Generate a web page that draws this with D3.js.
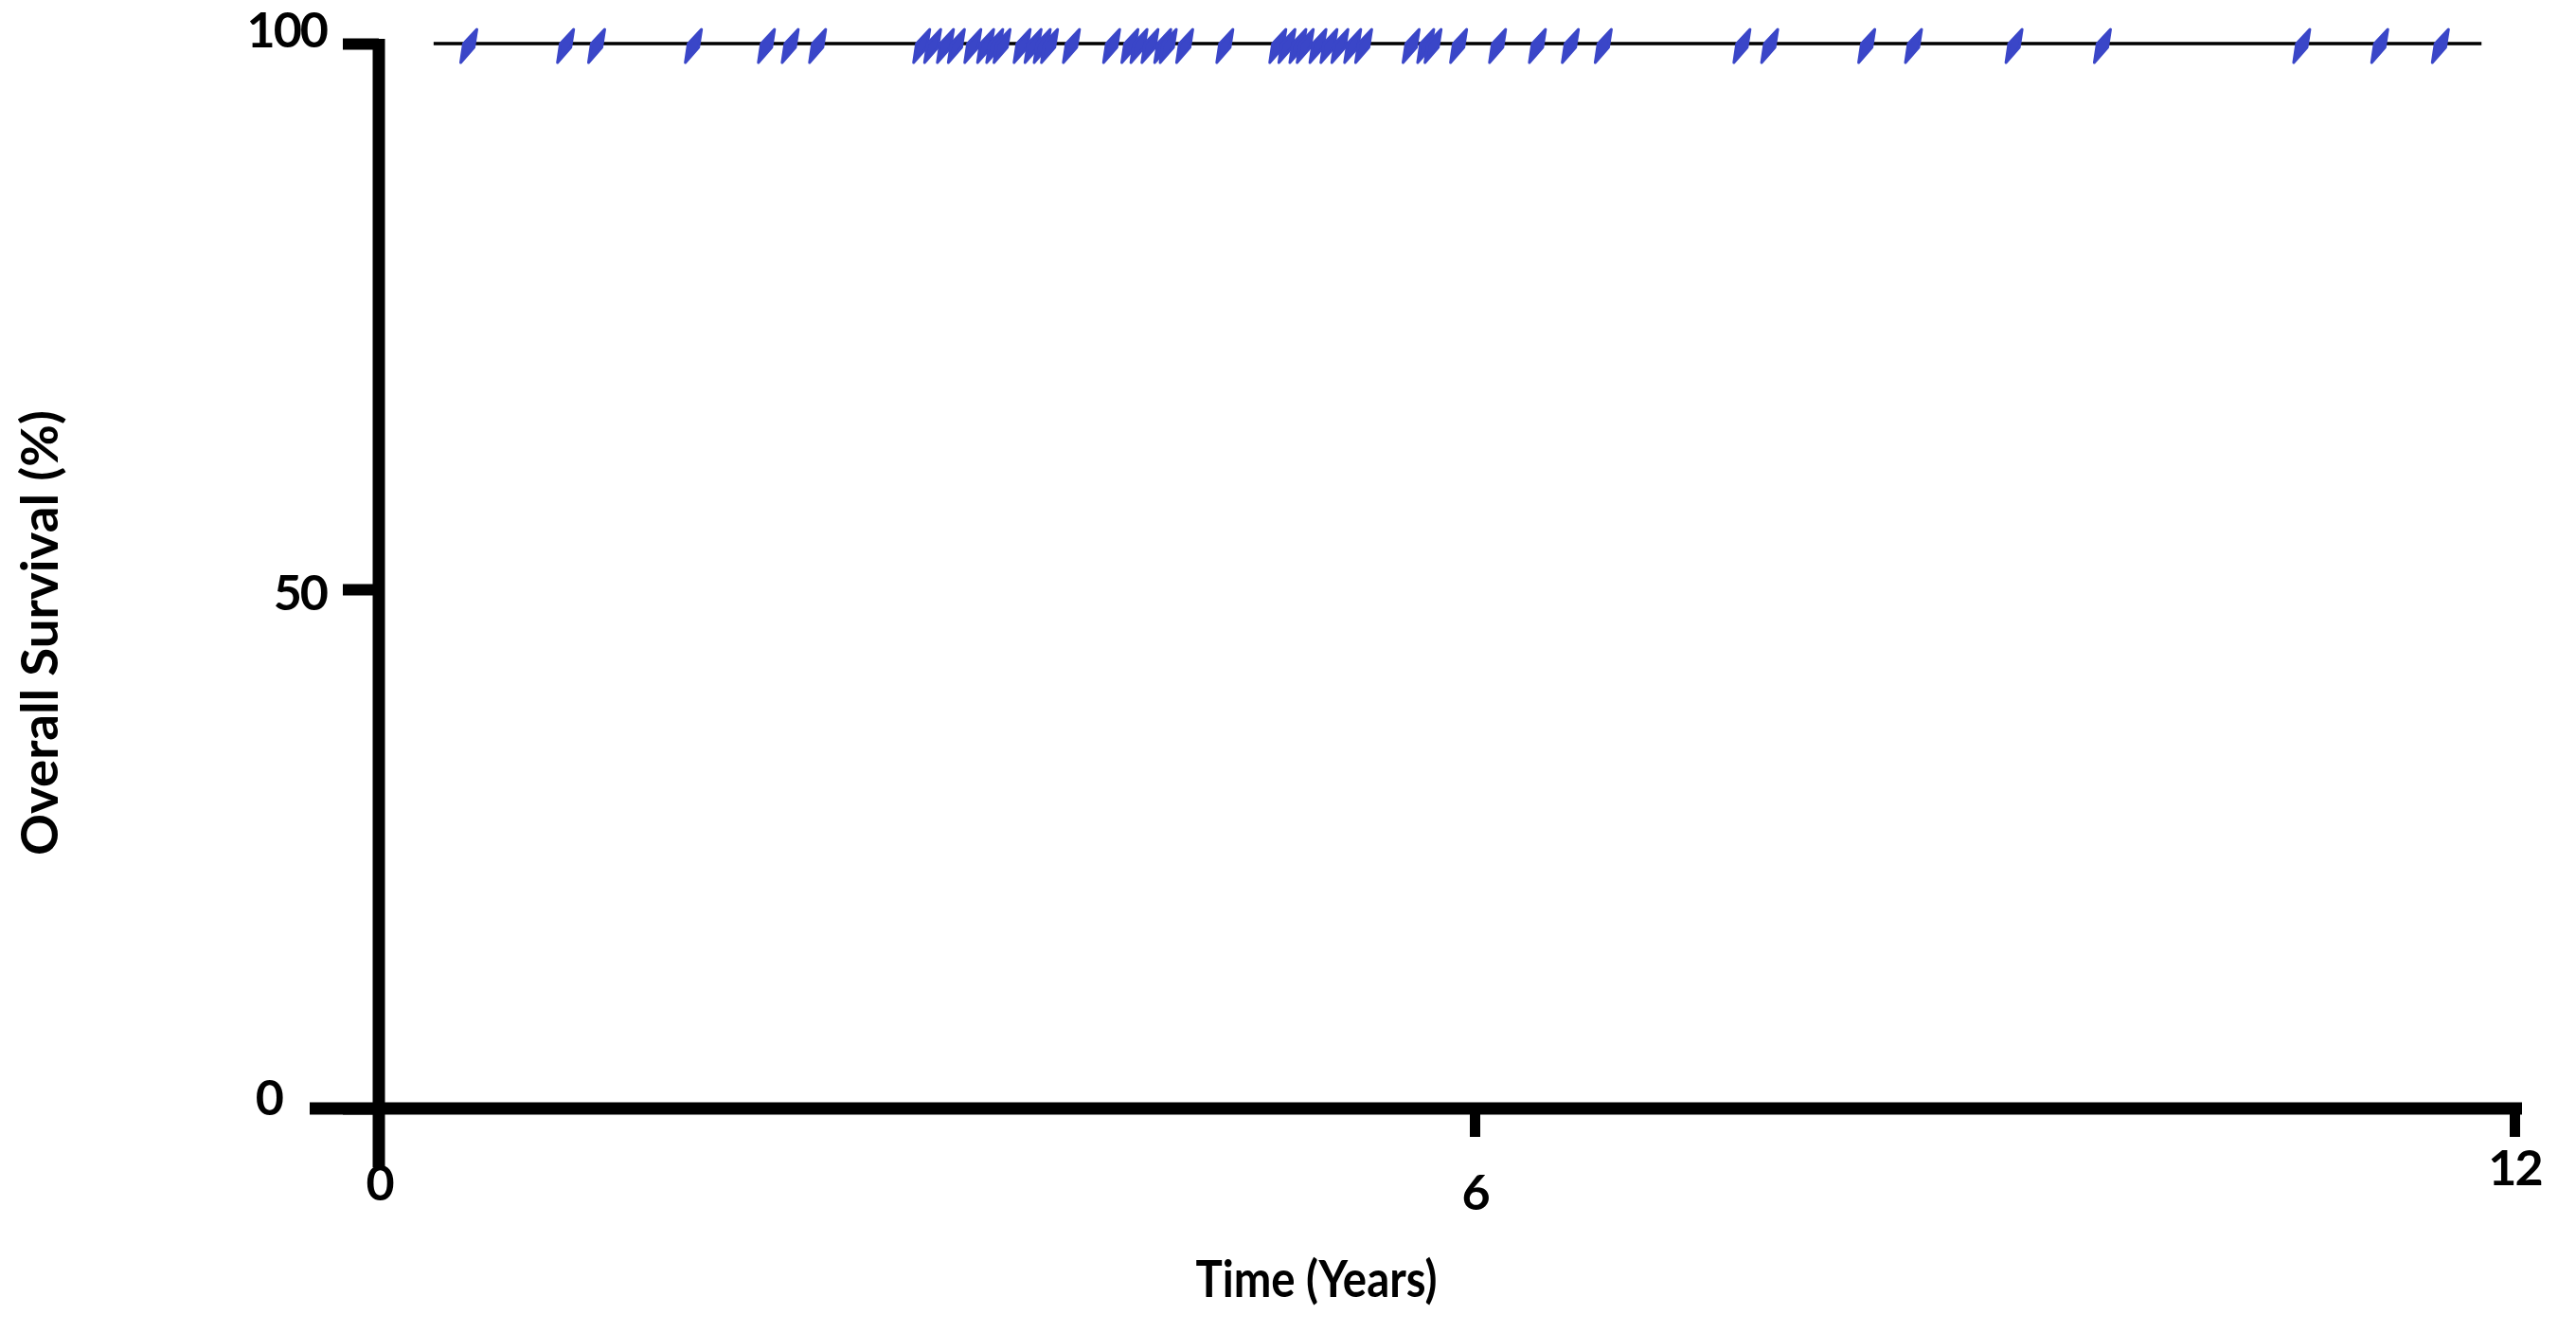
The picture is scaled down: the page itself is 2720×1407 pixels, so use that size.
<!DOCTYPE html>
<html>
<head>
<meta charset="utf-8">
<script src="https://cdn.jsdelivr.net/npm/d3@7"></script>
<style>
  html, body { margin: 0; padding: 0; background: #ffffff; }
  svg { display: block; }
  text { font-family: Lato, "Open Sans", "Liberation Sans", sans-serif; font-weight: 700; fill: #000; }
</style>
</head>
<body>
<svg id="chart" width="2720" height="1407"></svg>
<script>
// ---- data ----
const timeTicks = [0, 6, 12];
const survivalTicks = [0, 50, 100];
const timeTickLabels = ["0", "6", "12"];
const survivalTickLabels = ["0", "50", "100"];

// Kaplan–Meier curve (no events: stays at 100%)
const curveTimes = [0.30, 11.81];
const curveSurvival = [100, 100];

// censored observations (years)
const censorTimes = [
  0.49, 1.02, 1.19, 1.72, 2.12, 2.25, 2.40,
  2.97, 3.03, 3.10, 3.16, 3.25, 3.32, 3.37, 3.41,
  3.52, 3.58, 3.63, 3.67, 3.79,
  4.01, 4.11, 4.16, 4.22, 4.29, 4.32, 4.41, 4.63,
  4.92, 4.97, 5.03, 5.07, 5.14, 5.20, 5.26, 5.33, 5.39,
  5.65, 5.73, 5.77, 5.91, 6.13, 6.36, 6.55, 6.74,
  7.54, 7.70, 8.26, 8.53, 9.11, 9.62, 10.77, 11.22, 11.57
];

const xTitle = "Time (Years)";
const yTitle = "Overall Survival (%)";

// ---- chart ----
const svg = d3.select("#chart");
svg.append("rect").attr("width", 2720).attr("height", 1407).attr("fill", "#fff");

const x = d3.scaleLinear().domain([0, 6, 12]).range([400, 1557, 2655]);
const y = d3.scaleLinear().domain([0, 50, 100]).range([1170, 622, 46]);

const AXW = 13;
const FONT = "Lato, 'Open Sans', sans-serif";

// label nudges, as placed in the reference
const yLabelShift = { 0: -12, 50: 3, 100: -15 };
const yLabelX = { 0: -102, 50: -55, 100: -55 };
const xLabelY = { 0: 78, 6: 88, 12: 62 };

// y axis
const yAxis = d3.axisLeft(y)
  .tickValues(survivalTicks)
  .tickFormat((d, i) => survivalTickLabels[i])
  .tickSize(38)
  .tickSizeOuter(0)
  .tickPadding(17);
const gy = svg.append("g").attr("transform", `translate(${x(0)},0)`).call(yAxis);
gy.select(".domain").remove();
gy.selectAll(".tick line").attr("stroke", "#000").attr("stroke-width", 12);
gy.selectAll(".tick text")
  .attr("font-size", 52)
  .attr("x", d => yLabelX[d])
  .attr("y", d => yLabelShift[d])
  .attr("dy", "0.36em")
  .style("letter-spacing", "-2px")
  .style("font-family", FONT)
  .style("font-weight", 700)
  .attr("fill", "#000");

// x axis
const xAxis = d3.axisBottom(x)
  .tickValues(timeTicks)
  .tickFormat((d, i) => timeTickLabels[i])
  .tickSize(30)
  .tickSizeOuter(0)
  .tickPadding(0);
const gx = svg.append("g").attr("transform", `translate(0,${y(0)})`).call(xAxis);
gx.select(".domain").remove();
gx.selectAll(".tick line").attr("stroke", "#000").attr("stroke-width", 11);
gx.selectAll(".tick text")
  .attr("font-size", 52)
  .attr("y", d => xLabelY[d])
  .attr("dy", "0.36em")
  .style("letter-spacing", "-2px")
  .style("font-family", FONT)
  .style("font-weight", 700)
  .attr("fill", "#000");

// axis lines (extended past the origin as in the reference)
svg.append("line")
  .attr("x1", x(0)).attr("x2", x(0))
  .attr("y1", y(100) - 5).attr("y2", y(0) + 62)
  .attr("stroke", "#000").attr("stroke-width", AXW);
svg.append("line")
  .attr("x1", x(0) - 73).attr("x2", x(12) + 8)
  .attr("y1", y(0)).attr("y2", y(0))
  .attr("stroke", "#000").attr("stroke-width", AXW);

// survival curve
const curve = curveTimes.map((t, i) => [t, curveSurvival[i]]);
svg.append("path")
  .datum(curve)
  .attr("d", d3.line().x(d => x(d[0])).y(d => y(d[1])).curve(d3.curveStepAfter))
  .attr("fill", "none")
  .attr("stroke", "#000")
  .attr("stroke-width", 3.5);

// censor marks (slanted lozenges)
const levelAt = t => curveSurvival[Math.max(0, d3.bisectRight(curveTimes, t) - 1)];
svg.append("g").selectAll("path")
  .data(censorTimes)
  .join("path")
  .attr("d", t => {
    const cx = x(t), cy = y(levelAt(t));
    return `M${cx + 9},${cy - 15} L${cx + 6},${cy + 4} L${cx - 8},${cy + 20} L${cx - 5},${cy} Z`;
  })
  .attr("fill", "#3a46c8")
  .attr("stroke", "#3a46c8")
  .attr("stroke-width", 3)
  .attr("stroke-linejoin", "round");

// titles
svg.append("text")
  .attr("x", 1390).attr("y", 1350).attr("dy", "0.35em")
  .attr("text-anchor", "middle")
  .attr("font-size", 54)
  .attr("textLength", 255).attr("lengthAdjust", "spacingAndGlyphs")
  .text(xTitle);

svg.append("text")
  .attr("transform", "translate(42,668) rotate(-90)")
  .attr("dy", "0.35em")
  .attr("text-anchor", "middle")
  .attr("font-size", 54)
  .attr("textLength", 470).attr("lengthAdjust", "spacingAndGlyphs")
  .text(yTitle);
</script>
</body>
</html>
